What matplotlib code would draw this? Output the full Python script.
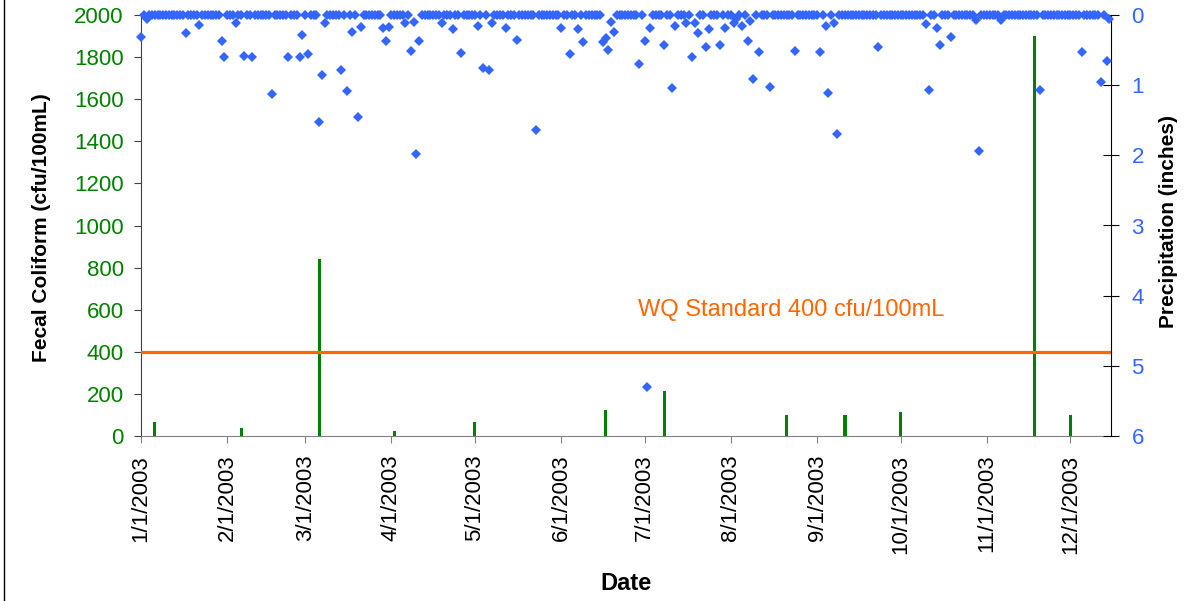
import pandas as pd
import matplotlib
matplotlib.use('Agg')
import matplotlib.pyplot as plt
import matplotlib.dates as mdates
from matplotlib.ticker import FuncFormatter
from matplotlib.lines import Line2D

plt.rcParams['font.family'] = ['Liberation Sans', 'DejaVu Sans']

# fecal coliform samples (cfu/100mL)
fc_dates = ['2003-01-06', '2003-02-06', '2003-03-06', '2003-04-02', '2003-05-01', '2003-06-17',
            '2003-07-08', '2003-08-21', '2003-09-11', '2003-10-01', '2003-11-18', '2003-12-01']
fc_values = [68, 38, 840, 25, 68, 123, 215, 101, 101, 116, 1900, 101]

wq_standard = 400

# daily precipitation, days counted from 1/1/2003; days not listed are 0
first_day = '2003-01-01'
last_day = '2003-12-15'
rain_doy = [0, 2, 16, 21, 29, 30, 34, 37, 40, 47, 53, 57, 58, 60, 64, 65, 66, 72, 74, 76,
            78, 79, 87, 88, 89, 95, 97, 98, 99, 100, 108, 112, 115, 121, 123, 125, 126, 131, 135, 142,
            151, 154, 157, 159, 166, 167, 168, 169, 170, 179, 181, 182, 183, 188, 191, 192, 196, 198, 199, 200,
            203, 204, 208, 210, 213, 214, 216, 218, 219, 220, 222, 226, 235, 244, 246, 247, 249, 250, 265, 282,
            283, 286, 287, 291, 300, 301, 309, 323, 338, 345, 347, 348]
rain_in = [0.32, 0.06, 0.26, 0.14, 0.37, 0.60, 0.12, 0.58, 0.60, 1.13, 0.60, 0.60, 0.28, 0.56, 1.53, 0.85, 0.12, 0.79, 1.08, 0.24,
           1.46, 0.17, 0.18, 0.37, 0.17, 0.12, 0.51, 0.10, 1.98, 0.37, 0.12, 0.20, 0.54, 0.16, 0.75, 0.79, 0.11, 0.18, 0.35, 1.64,
           0.18, 0.56, 0.20, 0.38, 0.39, 0.33, 0.50, 0.10, 0.24, 0.70, 0.37, 5.30, 0.18, 0.43, 1.04, 0.15, 0.11, 0.60, 0.11, 0.26,
           0.45, 0.20, 0.43, 0.18, 0.12, 0.06, 0.16, 0.37, 0.08, 0.91, 0.53, 1.02, 0.51, 0.53, 0.16, 1.11, 0.12, 1.69, 0.46, 0.13,
           1.07, 0.18, 0.43, 0.32, 0.07, 1.94, 0.07, 1.07, 0.53, 0.96, 0.66, 0.05]

days = pd.date_range(first_day, last_day, freq='D')
precip = pd.Series(0.0, index=days)
precip.iloc[rain_doy] = rain_in

green = '#008000'
blue = '#3366FF'
orange = '#FF6600'

fig = plt.figure(figsize=(11.89, 6.01), dpi=100)
ax = fig.add_axes([141 / 1189, 1 - 436 / 601, 970 / 1189, 421 / 601])

ax.bar(pd.to_datetime(fc_dates), fc_values, width=1.1, color=green, zorder=2)
ax.axhline(wq_standard, color=orange, lw=2.3, zorder=3)
ax.text(0.67, 0.299, 'WQ Standard 400 cfu/100mL', transform=ax.transAxes,
        color=orange, fontsize=17, ha='center', va='center')

ax.set_ylim(0, 2000)
ax.set_yticks(range(0, 2001, 200))
ax.set_xlim(pd.Timestamp('2003-01-01'), pd.Timestamp('2003-12-15 14:00'))
ax.xaxis.set_major_locator(mdates.MonthLocator())
ax.xaxis.set_major_formatter(FuncFormatter(
    lambda v, pos: '{d.month}/{d.day}/{d.year}'.format(d=mdates.num2date(v))))

for s in ['top', 'right']:
    ax.spines[s].set_visible(False)
ax.spines['left'].set_color('#404040')
ax.spines['bottom'].set_color('#808080')
ax.tick_params(axis='y', direction='out', length=5, color='#404040',
               labelcolor=green, labelsize=16, pad=7.5)
ax.tick_params(axis='x', direction='out', length=5, color='#808080',
               labelsize=16, pad=8.5, labelrotation=90)

# precipitation on inverted right axis
ax2 = ax.twinx()
ax2.plot(precip.index, precip.values, linestyle='none', marker='D', ms=5.4,
         mew=0, color=blue, clip_on=False, zorder=4)
ax2.set_ylim(6, 0)
ax2.set_yticks(range(0, 7))
for s in ['top', 'left', 'bottom']:
    ax2.spines[s].set_visible(False)
ax2.spines['right'].set_color('black')
ax2.tick_params(axis='y', direction='inout', length=11.5, color='black',
                labelcolor=blue, labelsize=16, pad=9)

fig.text(42 / 1189, 1 - 228 / 601, 'Fecal Coliform (cfu/100mL)', rotation=90,
         ha='center', va='center', fontsize=15, fontweight='bold')
fig.text(1168 / 1189, 1 - 222 / 601, 'Precipitation (inches)', rotation=90,
         ha='center', va='center', fontsize=15, fontweight='bold')
fig.text(626 / 1189, 1 - 583 / 601, 'Date', ha='center', va='center',
         fontsize=17, fontweight='bold')

fig.add_artist(Line2D([3.5 / 1189, 3.5 / 1189], [0, 1], transform=fig.transFigure,
                      color='black', lw=1))

fig.savefig('out.png', dpi=100)
